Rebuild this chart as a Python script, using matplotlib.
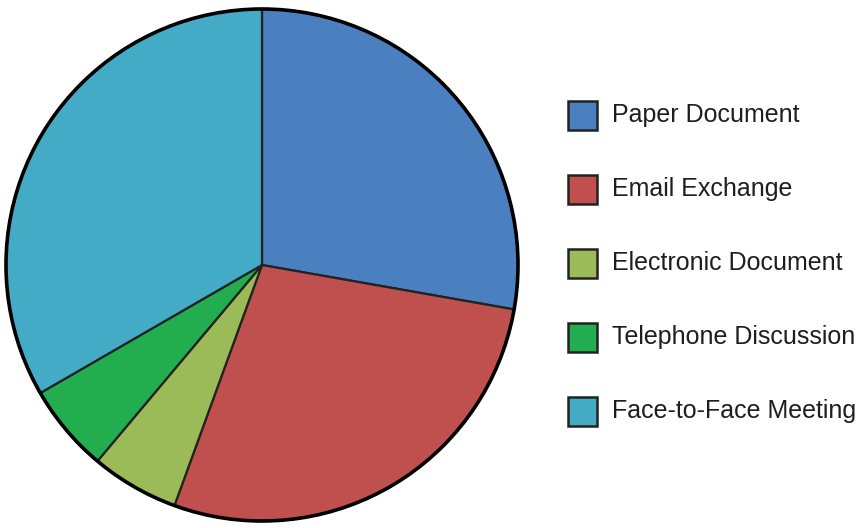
import matplotlib
matplotlib.use("Agg")
import matplotlib.pyplot as plt
from matplotlib.patches import Circle, Rectangle

# Communication channels and their shares
categories = ["Paper Document", "Email Exchange", "Electronic Document",
              "Telephone Discussion", "Face-to-Face Meeting"]
values = [5, 5, 1, 1, 6]
colors = ["#4a80bf", "#c0504e", "#9bbb59", "#22ae4f", "#43abc6"]

W, H = 865, 528
fig = plt.figure(figsize=(W / 100, H / 100), dpi=100)
fig.patch.set_facecolor("white")

# pie axes: centre at (262, 265) px from top-left, radius 256 px
cx, cy, r = 262, 265, 256
ax = fig.add_axes([(cx - r) / W, (H - cy - r) / H, 2 * r / W, 2 * r / H])
wedges, _ = ax.pie(values, colors=colors, startangle=90, counterclock=False,
                   radius=1.0,
                   wedgeprops=dict(edgecolor="#222222", linewidth=1.6))
for w in wedges:
    w.set_clip_on(False)
ax.add_patch(Circle((0, 0), 1.0, fill=False, edgecolor="black",
                    linewidth=2.6, clip_on=False))
ax.set_xlim(-1.0, 1.0)
ax.set_ylim(-1.0, 1.0)
ax.set_aspect("equal")
ax.axis("off")

# legend drawn by hand: boxes with labels to the right
box = 29
x0 = 568
y_centres = [115, 189, 263, 337, 411]
for lab, col, yc in zip(categories, colors, y_centres):
    fig.add_artist(Rectangle((x0 / W, (H - yc - box / 2) / H), box / W, box / H,
                             facecolor=col, edgecolor="#222222", linewidth=1.8,
                             transform=fig.transFigure))
    fig.text(612 / W, (H - yc) / H, lab, fontsize=18, family="Liberation Sans",
             color="#1e1e1e", va="center", ha="left")

fig.savefig("out.png", dpi=100)
